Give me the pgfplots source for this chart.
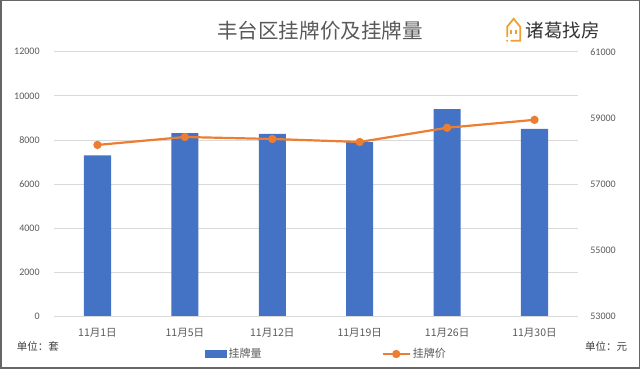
\documentclass[border=0pt]{standalone}
\usepackage{fontspec}
\setmainfont{Carlito}
\newfontfamily\cjk{Noto Sans CJK SC}
\usepackage{pgfplots}
\pgfplotsset{compat=1.18}
\definecolor{barblue}{HTML}{4472C4}
\definecolor{lineor}{HTML}{ED7D31}
\definecolor{txtgray}{HTML}{595959}
\definecolor{gridgray}{HTML}{D9D9D9}
\definecolor{logoor}{HTML}{F0A030}
\begin{document}
\begin{tikzpicture}
\draw[line width=1.5pt, black!60] (-53pt,-52pt) rectangle (585pt,315pt);
\begin{axis}[
  scale only axis, width=524pt, height=264pt,
  at={(0pt,0pt)}, anchor=south west,
  xmin=-0.5, xmax=5.5, ymin=0, ymax=12000,
  xtick={0,1,2,3,4,5},
  xticklabels={11月1日,11月5日,11月12日,11月19日,11月26日,11月30日},
  ytick={0,2000,...,12000},
  scaled y ticks=false,
  ymajorgrids, grid style={gridgray, line width=0.7pt},
  axis line style={draw=none}, major tick length=0pt,
  /pgf/number format/assume math mode=true,
  /pgf/number format/1000 sep={},
  xticklabel style={font=\cjk\fontsize{10.5}{12}\selectfont, text=txtgray, anchor=center, yshift=-17pt},
  yticklabel style={font=\fontsize{10}{11}\selectfont, text=txtgray, anchor=east, inner sep=0pt, xshift=-14pt},
]
\addplot[ybar, bar width=27pt, fill=barblue, draw=none]
  coordinates {(0,7300)(1,8300)(2,8270)(3,7900)(4,9400)(5,8500)};
\end{axis}
\begin{axis}[
  scale only axis, width=524pt, height=264pt,
  at={(0pt,0pt)}, anchor=south west,
  xmin=-0.5, xmax=5.5, ymin=53000, ymax=61000,
  hide x axis, axis y line*=right,
  ytick={53000,55000,...,61000},
  scaled y ticks=false,
  axis line style={draw=none}, major tick length=0pt,
  /pgf/number format/assume math mode=true,
  /pgf/number format/1000 sep={},
  yticklabel style={font=\fontsize{10}{11}\selectfont, text=txtgray, anchor=west, inner sep=0pt, xshift=12pt},
  legend columns=2,
  legend style={at={(0.52,0)}, anchor=center, yshift=-38pt, draw=none, fill=none,
    font=\cjk\fontsize{11}{12}\selectfont, text=txtgray,
    /tikz/every odd column/.append style={inner sep=1pt},
    /tikz/every even column/.append style={column sep=118pt}},
]
\addlegendimage{legend image code/.code={\fill[barblue] (0pt,-3.5pt) rectangle (21pt,3.5pt);}}
\addlegendentry{挂牌量}
\addplot[lineor, line width=2.2pt, mark=*, mark size=3pt, mark options={fill=lineor, draw=lineor},
  legend image code/.code={\draw[lineor, line width=2.2pt] (0pt,0pt) -- (27pt,0pt); \fill[lineor] (13.5pt,0pt) circle (3pt);}]
  coordinates {(0,58180)(1,58420)(2,58360)(3,58270)(4,58700)(5,58940)};
\addlegendentry{挂牌价}
\end{axis}
\node[font=\cjk\fontsize{20.5}{24}\selectfont, text=txtgray] at (266pt,285pt) {丰台区挂牌价及挂牌量};
\draw[logoor, line width=1.8pt, line join=miter] (453pt,279pt) -- (453pt,289pt) -- (459.5pt,297pt) -- (466pt,289pt) -- (466pt,275pt) -- (456.5pt,275pt);
\fill[logoor] (456.2pt,282pt) rectangle (457.8pt,286pt);
\fill[logoor] (461.2pt,282pt) rectangle (462.8pt,286pt);
\fill[logoor] (453pt,275pt) circle (1.1pt);
\node[font=\cjk\fontsize{18.5}{22}\selectfont, text=black!80] at (508.5pt,285pt) {诸葛找房};
\node[font=\cjk\fontsize{10.5}{12}\selectfont, text=black!75] at (-16pt,-30pt) {单位：套};
\node[font=\cjk\fontsize{10.5}{12}\selectfont, text=black!75] at (552pt,-30pt) {单位：元};
\end{tikzpicture}
\end{document}
